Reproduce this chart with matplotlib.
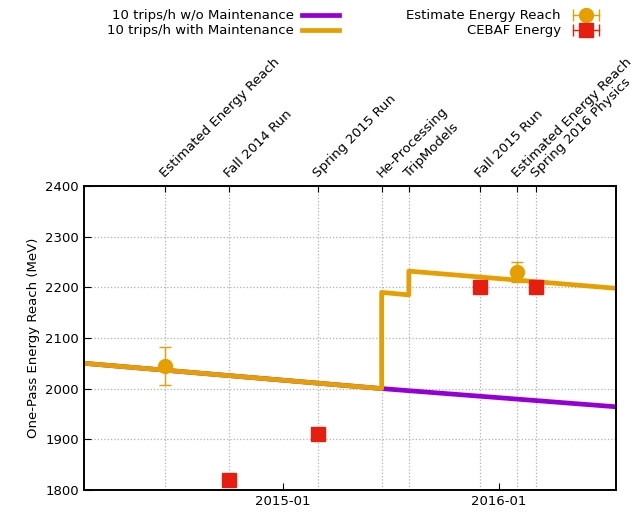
import pandas as pd
import matplotlib
matplotlib.use('Agg')
import matplotlib.pyplot as plt
import matplotlib.dates as mdates
from matplotlib.lines import Line2D
from matplotlib.legend_handler import HandlerLine2D, HandlerTuple

# events shown on the top axis
event_dates = pd.to_datetime(['2014-06-15', '2014-10-01', '2015-03-01', '2015-06-17',
                              '2015-08-02', '2015-12-01', '2016-02-01', '2016-03-04'])
event_labels = ['Estimated Energy Reach', 'Fall 2014 Run', 'Spring 2015 Run', 'He-Processing',
                'TripModels', 'Fall 2015 Run', 'Estimated Energy Reach', 'Spring 2016 Physics']

# model curves
no_maint_dates = pd.to_datetime(['2014-01-29', '2015-06-17', '2016-07-18'])
no_maint_vals = [2050, 2000, 1964]

maint_dates = pd.to_datetime(['2014-01-29', '2015-06-17', '2015-06-17', '2015-08-02',
                              '2015-08-02', '2016-07-18'])
maint_vals = [2050, 2000, 2190, 2185, 2232, 2198]

# estimates with error bars
est_dates = pd.to_datetime(['2014-06-15', '2016-02-01'])
est_vals = [2045, 2231]
est_err = [37, 20]

# measured CEBAF energy
cebaf_dates = pd.to_datetime(['2014-10-01', '2015-03-01', '2015-12-01', '2016-03-04'])
cebaf_vals = [1820, 1910, 2200, 2200]

purple = '#9400D3'
orange = '#E69F00'
red = '#E51E10'
gridc = '#b0b0b0'

plt.rcParams['font.size'] = 9.5
fig = plt.figure(figsize=(6.44, 5.14), dpi=100)
ax = fig.add_axes([0.130, 0.047, 0.827, 0.591])

# vertical event lines under everything
for d in event_dates:
    ax.axvline(d, linestyle=':', color=gridc, lw=0.9, zorder=0)

l1, = ax.plot(no_maint_dates, no_maint_vals, color=purple, lw=3.4, label='10 trips/h w/o Maintenance')
l2, = ax.plot(maint_dates, maint_vals, color=orange, lw=3.4, label='10 trips/h with Maintenance')
ax.errorbar(est_dates, est_vals, yerr=est_err, fmt='o', color=orange, ms=10,
            capsize=4, elinewidth=1, zorder=5)
ax.errorbar(cebaf_dates, cebaf_vals, yerr=[0, 0, 0, 0], fmt='s', color=red, ms=10,
            capsize=0, elinewidth=1, zorder=5)

xmin = pd.Timestamp('2014-01-29')
xmax = pd.Timestamp('2016-07-18')
ax.set_xlim(xmin, xmax)
ax.set_ylim(1800, 2400)
ax.set_yticks(range(1800, 2401, 100))
ax.set_xticks(pd.to_datetime(['2015-01-01', '2016-01-01']))
ax.xaxis.set_major_formatter(mdates.DateFormatter('%Y-%m'))
ax.tick_params(direction='in', length=5)
ax.set_ylabel('One-Pass Energy Reach (MeV)')
ax.grid(axis='y', linestyle=':', color=gridc, lw=0.9)
ax.set_axisbelow(True)

ax2 = ax.twiny()
ax2.set_xlim(xmin, xmax)
ax2.set_xticks(event_dates)
ax2.set_xticklabels(event_labels, rotation=45, ha='left', va='baseline', rotation_mode='anchor')
ax2.tick_params(direction='in', length=4, pad=6)

for a in (ax, ax2):
    for s in a.spines.values():
        s.set_linewidth(1.2)

# legend handles in gnuplot style: |--o--|
def err_handle(color, marker):
    caps = Line2D([], [], color=color, lw=1, marker='|', ms=8, mew=1)
    mark = Line2D([], [], color=color, lw=0, marker=marker, ms=10)
    return (caps, mark), caps

h_est, caps_est = err_handle(orange, 'o')
h_ceb, caps_ceb = err_handle(red, 's')

leg1 = fig.legend(handles=[l1, l2], loc='upper right', bbox_to_anchor=(0.545, 1.005),
                  frameon=False, markerfirst=False, handlelength=2.8, labelspacing=0.15,
                  handletextpad=0.6)
leg2 = fig.legend(handles=[h_est, h_ceb], labels=['Estimate Energy Reach', 'CEBAF Energy'],
                  loc='upper right', bbox_to_anchor=(0.955, 1.005),
                  frameon=False, markerfirst=False, handlelength=2.6, labelspacing=0.15,
                  handletextpad=0.6,
                  handler_map={caps_est: HandlerLine2D(numpoints=2),
                               caps_ceb: HandlerLine2D(numpoints=2),
                               tuple: HandlerTuple(ndivide=1, pad=0)})

fig.savefig('out.png', dpi=100)
